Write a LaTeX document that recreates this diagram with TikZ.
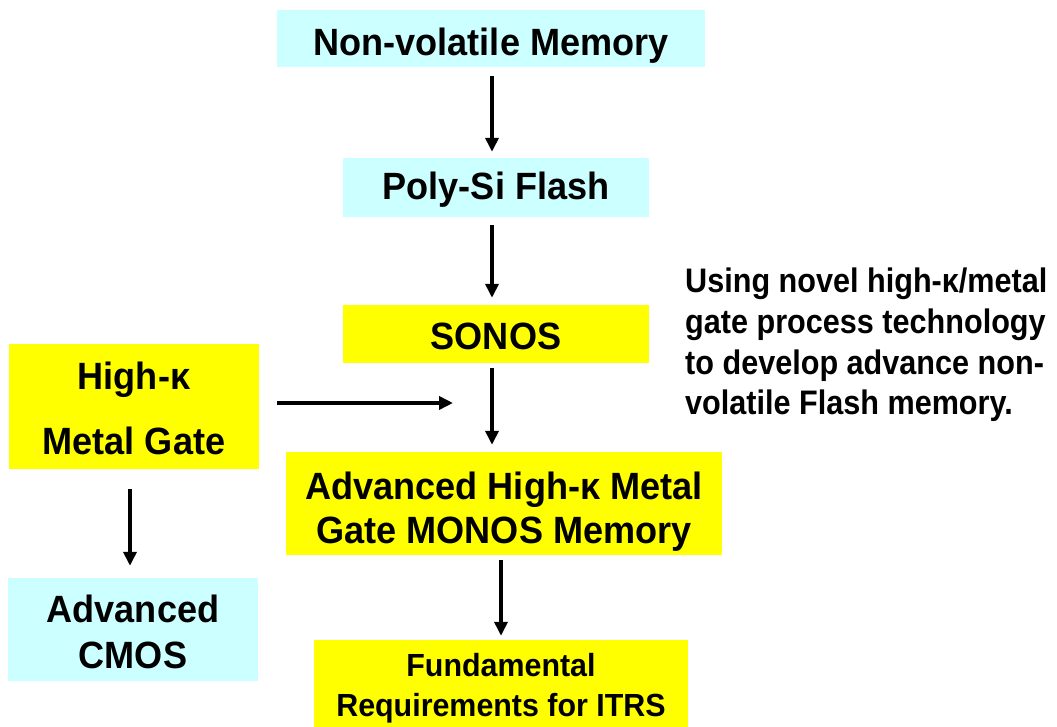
\documentclass[tikz,border=0pt]{standalone}
\usepackage{fontspec}
\setmainfont{Liberation Sans}[FakeStretch=0.95]
\newfontfamily\notefont{Liberation Sans}[FakeStretch=0.9]
\usetikzlibrary{arrows.meta}
\definecolor{boxcyan}{HTML}{CCFFFF}
\definecolor{boxyellow}{HTML}{FFFF00}
\newcommand{\lines}[1]{\begin{tabular}[t]{@{}c@{}}#1\end{tabular}}
\tikzset{
  box/.style={inner sep=0pt},
  cyanbox/.style={box, fill=boxcyan},
  yellowbox/.style={box, fill=boxyellow},
  boxtext/.style={anchor=base, inner sep=0pt, font=\bfseries\fontsize{38}{44}\selectfont},
  smalltext/.style={boxtext, font=\bfseries\fontsize{32}{40}\selectfont},
  arr/.style={line width=3.6pt, -{Triangle[length=14pt,width=13pt]}},
}
\begin{document}
\begin{tikzpicture}[x=1pt,y=-1pt]
\useasboundingbox (0,0) rectangle (1057,727);

% flow boxes
\node[cyanbox, minimum width=428pt, minimum height=57pt] (nvm) at (491,38.5) {};
\node[cyanbox, minimum width=306pt, minimum height=59pt] (poly) at (496,187.5) {};
\node[yellowbox, minimum width=306pt, minimum height=58pt] (sonos) at (496,334) {};
\node[yellowbox, minimum width=250pt, minimum height=125pt] (hk) at (134,406.5) {};
\node[yellowbox, minimum width=436pt, minimum height=103pt] (adv) at (504,503.5) {};
\node[cyanbox, minimum width=250pt, minimum height=103pt] (cmos) at (133,629.5) {};
\node[yellowbox, minimum width=374pt, minimum height=87pt] (itrs) at (501,683.5) {};

% box labels, placed on their first baselines
\node[boxtext] (nvm-t) at (491,56) {Non-volatile Memory};
\node[boxtext] (poly-t) at (496,200) {Poly-Si Flash};
\node[boxtext] (sonos-t) at (496,349) {SONOS};
\node[boxtext] (hk-t) at (134,389) {\lines{High-κ\\[21pt]Metal Gate}};
\node[boxtext] (adv-t) at (504,499) {\lines{Advanced High-κ Metal\\Gate MONOS Memory}};
\node[boxtext] (cmos-t) at (133,622) {\lines{Advanced\\[2pt]CMOS}};
\node[smalltext] (itrs-t) at (501,676) {\lines{Fundamental\\Requirements for ITRS}};

% side remark
\node[anchor=base west, inner sep=0pt, font=\notefont\bfseries\fontsize{34}{41}\selectfont] (note) at (685,292)
  {\begin{tabular}[t]{@{}l@{}}Using novel high-κ/metal\\gate process technology\\to develop advance non-\\volatile Flash memory.\end{tabular}};

% connectors
\coordinate (hkend) at (453,403);
\draw[arr, shorten <=9pt, shorten >=6pt] ([xshift=1pt]nvm.south) -- ([xshift=-4pt]poly.north);
\draw[arr, shorten <=8pt, shorten >=7pt] ([xshift=-4pt]poly.south) -- ([xshift=-4pt]sonos.north);
\draw[arr, shorten <=5pt, shorten >=7pt] ([xshift=-4pt]sonos.south) -- ([xshift=-4pt]sonos.south |- adv.north);
\draw[arr, shorten <=18pt] (hk.east |- hkend) -- (hkend);
\draw[arr, shorten <=20pt, shorten >=12pt] ([xshift=-4pt]hk.south) -- ([xshift=-3pt]cmos.north);
\draw[arr, shorten <=5pt, shorten >=4pt] ([xshift=-3pt]adv.south) -- (itrs.north);
\end{tikzpicture}
\end{document}
